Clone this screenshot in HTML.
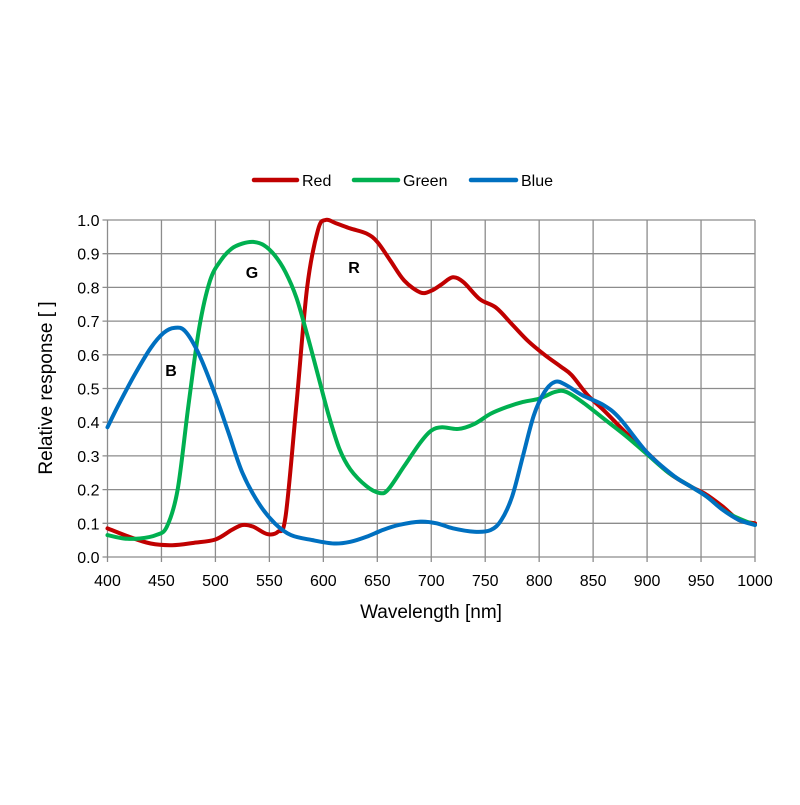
<!DOCTYPE html>
<html><head><style>html,body{margin:0;background:#fff;}</style></head>
<body>
<svg id="s" width="800" height="800" xmlns="http://www.w3.org/2000/svg" font-family="Liberation Sans, sans-serif">
<rect width="800" height="800" fill="#fff"/>
<g id="grid" stroke="#8c8c8c" stroke-width="1.3"></g>
<g id="ticks" font-size="16" fill="#000"></g>
<g id="curves" fill="none" stroke-width="4" stroke-linejoin="round" stroke-linecap="round"></g>
<text x="171" y="376" font-size="16" font-weight="bold" text-anchor="middle">B</text>
<text x="252" y="278" font-size="16" font-weight="bold" text-anchor="middle">G</text>
<text x="354" y="273" font-size="16" font-weight="bold" text-anchor="middle">R</text>
<text x="431" y="618" font-size="19" text-anchor="middle">Wavelength [nm]</text>
<text transform="translate(52,388) rotate(-90)" font-size="19" text-anchor="middle">Relative response [ ]</text>
<line x1="254" y1="180" x2="297" y2="180" stroke="#c00000" stroke-width="4.5" stroke-linecap="round"/>
<text x="302" y="186" font-size="16">Red</text>
<line x1="354" y1="180" x2="398" y2="180" stroke="#00b050" stroke-width="4.5" stroke-linecap="round"/>
<text x="403" y="186" font-size="16">Green</text>
<line x1="471" y1="180" x2="516" y2="180" stroke="#0070c0" stroke-width="4.5" stroke-linecap="round"/>
<text x="521" y="186" font-size="16">Blue</text>
</svg>
<script>
const L=107.5,R=755,T=220,B=557;
const X=n=>L+(n-400)*(R-L)/600, Y=v=>B-v*(B-T);
const ns="http://www.w3.org/2000/svg";
const g=document.getElementById('grid'),t=document.getElementById('ticks'),c=document.getElementById('curves');
function el(p,tag,a,txt){const e=document.createElementNS(ns,tag);for(const k in a)e.setAttribute(k,a[k]);if(txt)e.textContent=txt;p.appendChild(e);}
for(let n=400;n<=1000;n+=50){el(g,'line',{x1:X(n),y1:T,x2:X(n),y2:B+5});el(t,'text',{x:X(n),y:B+29,'text-anchor':'middle'},''+n);}
for(let i=0;i<=10;i++){const v=i/10;el(g,'line',{x1:L-5,y1:Y(v),x2:R,y2:Y(v)});el(t,'text',{x:L-8,y:Y(v)+6,'text-anchor':'end'},v.toFixed(1));}
function path(d){const p=d.map(([n,v])=>[X(n),Y(v)]);let s='M'+p[0][0]+','+p[0][1];
for(let i=0;i<p.length-1;i++){const p0=p[i-1]||p[i],p1=p[i],p2=p[i+1],p3=p[i+2]||p2;
s+=' C'+(p1[0]+(p2[0]-p0[0])/6)+','+(p1[1]+(p2[1]-p0[1])/6)+' '+(p2[0]-(p3[0]-p1[0])/6)+','+(p2[1]-(p3[1]-p1[1])/6)+' '+p2[0]+','+p2[1];}return s;}
const red=[[400,.085],[420,.06],[440,.04],[460,.035],[480,.042],[500,.052],[515,.08],[525,.095],[535,.09],[548,.068],[558,.075],[565,.12],[575,.45],[585,.8],[595,.97],[602,1.0],[612,.99],[625,.975],[640,.96],[650,.935],[662,.88],[675,.82],[690,.785],[700,.79],[710,.81],[720,.83],[730,.815],[745,.765],[760,.74],[775,.69],[790,.64],[805,.6],[820,.565],[830,.54],[845,.48],[860,.435],[880,.37],[900,.31],[920,.25],[940,.21],[955,.185],[970,.15],[985,.11],[1000,.1]];
const green=[[400,.065],[415,.055],[430,.055],[445,.065],[455,.09],[465,.2],[475,.45],[485,.68],[495,.82],[505,.88],[515,.915],[525,.93],[535,.935],[545,.925],[555,.895],[565,.845],[575,.77],[585,.66],[595,.54],[605,.42],[615,.32],[625,.26],[640,.21],[652,.19],[660,.2],[675,.27],[690,.34],[700,.375],[710,.385],[725,.38],[740,.395],[755,.425],[770,.445],[785,.46],[800,.47],[815,.49],[825,.49],[840,.46],[860,.41],[880,.36],[900,.305],[920,.25],[940,.21],[955,.18],[975,.13],[1000,.095]];
const blue=[[400,.385],[410,.45],[425,.54],[440,.62],[452,.665],[462,.68],[472,.67],[485,.6],[500,.48],[512,.37],[525,.25],[540,.16],[555,.1],[570,.065],[590,.05],[610,.04],[625,.045],[640,.06],[655,.08],[670,.095],[690,.105],[705,.1],[720,.085],[740,.075],[755,.08],[765,.11],[775,.18],[785,.3],[795,.42],[805,.49],[815,.52],[825,.51],[840,.48],[860,.45],[875,.41],[900,.31],[925,.24],[940,.21],[955,.18],[970,.14],[985,.11],[1000,.095]];
el(c,'path',{d:path(red),stroke:'#c00000'});
el(c,'path',{d:path(green),stroke:'#00b050'});
el(c,'path',{d:path(blue),stroke:'#0070c0'});
</script>
</body></html>
